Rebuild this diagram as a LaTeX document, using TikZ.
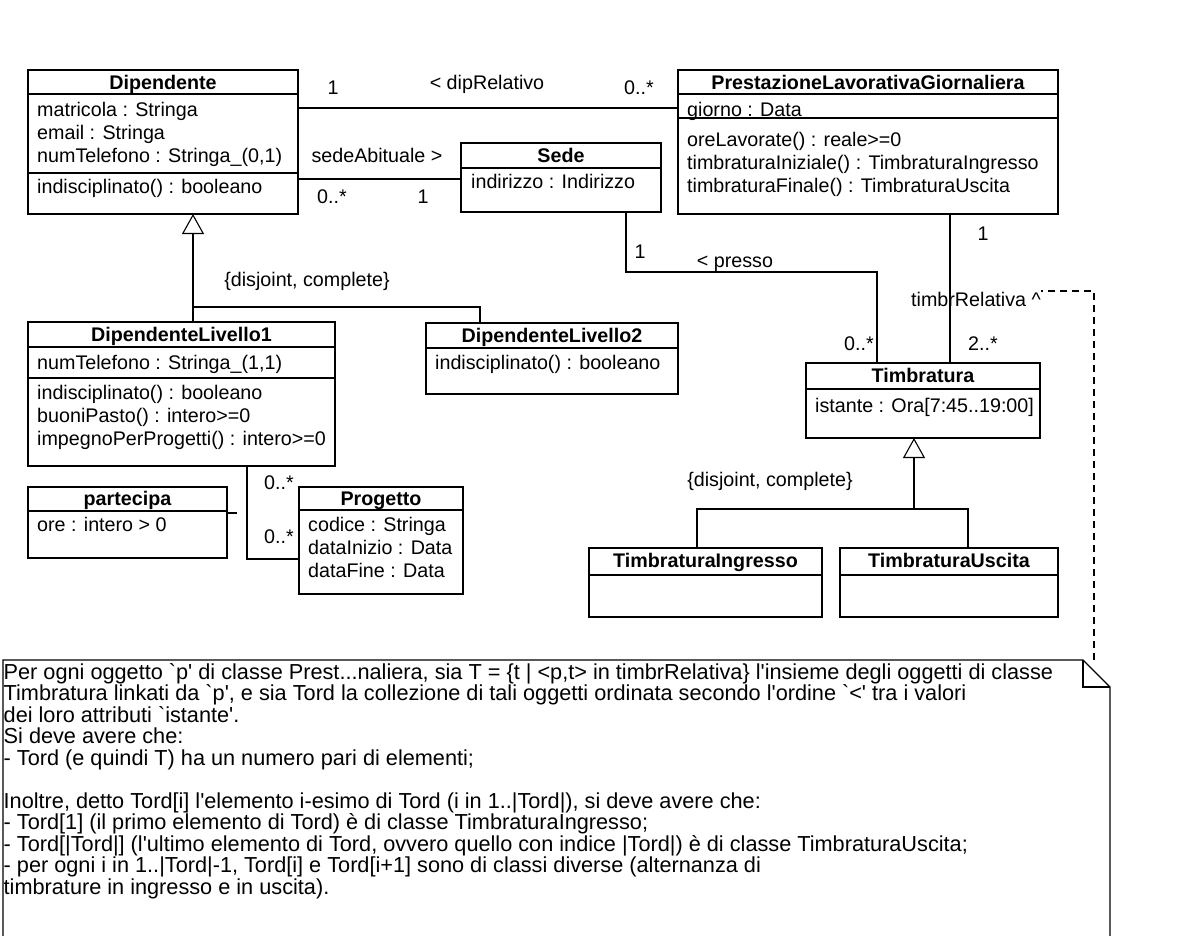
\documentclass[tikz,border=0pt]{standalone}
\usepackage{fontspec}
\setmainfont{Liberation Sans}[Ligatures=TeXOff]
\usetikzlibrary{arrows.meta,calc}
\begin{document}
\begin{tikzpicture}[x=1pt,y=-1pt,
  box/.style={draw, fill=white, line width=1.1pt, inner sep=0pt, outer sep=0pt, anchor=north west},
  ttl/.style={anchor=base, inner sep=0pt, font=\fontsize{19.7}{23}\selectfont\bfseries},
  txt/.style={anchor=base west, inner sep=0pt, font=\fontsize{19.7}{23}\selectfont},
  lbl/.style={anchor=base, inner sep=0pt, font=\fontsize{19.7}{23}\selectfont},
  ntxt/.style={anchor=base west, inner sep=0pt, font=\fontsize{21.7}{21.5}\selectfont},
  conn/.style={line width=1.1pt},
  gen/.style={line width=1.1pt, -{Triangle[open, length=20pt, width=22pt, line width=1.1pt]}},
  notelink/.style={line width=1.1pt, dash pattern=on 7pt off 5pt},
  asslink/.style={line width=1.1pt, dash pattern=on 10pt off 10pt},
]
\useasboundingbox (0,0) rectangle (1188,935);
\fill[white] (0,0) rectangle (1188,935);

% ---------- Dipendente
\node[box, minimum width=270pt, minimum height=144pt] (dip) at (28,70) {};
\draw[conn] ($(dip.north west)+(0,24)$) -- ($(dip.north east)+(0,24)$);
\draw[conn] ($(dip.north west)+(0,103)$) -- ($(dip.north east)+(0,103)$);
\node[ttl] (dipT) at (163,89) {Dipendente};
\node[txt] (dipA1) at (37,116) {matricola : Stringa};
\node[txt] (dipA2) at (37,139) {email : Stringa};
\node[txt] (dipA3) at (37,162) {numTelefono : Stringa\_(0,1)};
\node[txt] (dipO1) at (37,193) {indisciplinato() : booleano};

% ---------- PrestazioneLavorativaGiornaliera
\node[box, minimum width=380pt, minimum height=144pt] (plg) at (678,70) {};
\draw[conn] ($(plg.north west)+(0,24)$) -- ($(plg.north east)+(0,24)$);
\draw[conn] ($(plg.north west)+(0,48)$) -- ($(plg.north east)+(0,48)$);
\node[ttl] (plgT) at (868,89) {PrestazioneLavorativaGiornaliera};
\node[txt] (plgA1) at (687,116) {giorno : Data};
\node[txt] (plgO1) at (687,146) {oreLavorate() : reale>=0};
\node[txt] (plgO2) at (687,169) {timbraturaIniziale() : TimbraturaIngresso};
\node[txt] (plgO3) at (687,192) {timbraturaFinale() : TimbraturaUscita};

% ---------- Sede
\node[box, minimum width=200pt, minimum height=69pt] (sede) at (461,143) {};
\draw[conn] ($(sede.north west)+(0,25)$) -- ($(sede.north east)+(0,25)$);
\node[ttl] (sedeT) at (561,162) {Sede};
\node[txt] (sedeA1) at (471,188) {indirizzo : Indirizzo};

% ---------- DipendenteLivello1
\node[box, minimum width=307pt, minimum height=144pt] (dl1) at (28,322) {};
\draw[conn] ($(dl1.north west)+(0,25)$) -- ($(dl1.north east)+(0,25)$);
\draw[conn] ($(dl1.north west)+(0,56)$) -- ($(dl1.north east)+(0,56)$);
\node[ttl] (dl1T) at (181.5,341) {DipendenteLivello1};
\node[txt] (dl1A1) at (37,369) {numTelefono : Stringa\_(1,1)};
\node[txt] (dl1O1) at (37,399) {indisciplinato() : booleano};
\node[txt] (dl1O2) at (37,422) {buoniPasto() : intero>=0};
\node[txt] (dl1O3) at (37,445) {impegnoPerProgetti() : intero>=0};

% ---------- DipendenteLivello2
\node[box, minimum width=252pt, minimum height=71pt] (dl2) at (426,323) {};
\draw[conn] ($(dl2.north west)+(0,25)$) -- ($(dl2.north east)+(0,25)$);
\node[ttl] (dl2T) at (552,342) {DipendenteLivello2};
\node[txt] (dl2O1) at (435,369) {indisciplinato() : booleano};

% ---------- Timbratura
\node[box, minimum width=234pt, minimum height=75pt] (timb) at (806,363) {};
\draw[conn] ($(timb.north west)+(0,26)$) -- ($(timb.north east)+(0,26)$);
\node[ttl] (timbT) at (923,382) {Timbratura};
\node[txt] (timbA1) at (815,412) {istante : Ora[7:45..19:00]};

% ---------- TimbraturaIngresso / TimbraturaUscita
\node[box, minimum width=233pt, minimum height=69pt] (ti) at (589,548) {};
\draw[conn] ($(ti.north west)+(0,27)$) -- ($(ti.north east)+(0,27)$);
\node[ttl] (tiT) at (705.5,567) {TimbraturaIngresso};
\node[box, minimum width=218pt, minimum height=69pt] (tu) at (840,548) {};
\draw[conn] ($(tu.north west)+(0,27)$) -- ($(tu.north east)+(0,27)$);
\node[ttl] (tuT) at (949,567) {TimbraturaUscita};

% ---------- partecipa
\node[box, minimum width=199pt, minimum height=71pt] (part) at (28,487) {};
\draw[conn] ($(part.north west)+(0,24)$) -- ($(part.north east)+(0,24)$);
\node[ttl] (partT) at (127.5,505) {partecipa};
\node[txt] (partA1) at (37,531) {ore : intero > 0};

% ---------- Progetto
\node[box, minimum width=164pt, minimum height=107pt] (prog) at (299,487) {};
\draw[conn] ($(prog.north west)+(0,23)$) -- ($(prog.north east)+(0,23)$);
\node[ttl] (progT) at (381,505) {Progetto};
\node[txt] (progA1) at (308,531) {codice : Stringa};
\node[txt] (progA2) at (308,554) {dataInizio : Data};
\node[txt] (progA3) at (308,577) {dataFine : Data};

% ---------- helper coordinates
\coordinate (c1) at (0,108);
\coordinate (c2) at (0,179);
\coordinate (c3) at (626,272);
\coordinate (c4) at (877,272);
\coordinate (c5) at (950,0);
\coordinate (c6) at (247,559);
\coordinate (c6b) at (0,513);
\coordinate (c7) at (1094,291);
\coordinate (j1) at (193,307);
\coordinate (j2) at (480,307);
\coordinate (j3) at (914,509);
\coordinate (j4) at (697,509);
\coordinate (j5) at (968,509);

% ---------- associations
\draw[conn] (dip.east |- c1) -- (plg.west |- c1);
\node[lbl] (m1) at (333,94) {1};
\node[lbl] (l1) at (487,89) {< dipRelativo};
\node[lbl] (m2) at (639,94) {0..*};

\draw[conn] (dip.east |- c2) -- (sede.west |- c2);
\node[lbl] (l2) at (377,162) {sedeAbituale >};
\node[lbl] (m3) at (332,203) {0..*};
\node[lbl] (m4) at (423,203) {1};

\draw[conn] (sede.south -| c3) -- (c3) -- (c4) -- (timb.north -| c4);
\node[lbl] (m5) at (640,258) {1};
\node[lbl] (l3) at (735,267) {< presso};
\node[lbl] (m6) at (859,350) {0..*};

\draw[conn] (plg.south -| c5) -- (timb.north -| c5);
\node[lbl] (m7) at (983,240) {1};
\node[lbl] (l4) at (976,306) {timbrRelativa \textasciicircum};
\node[lbl] (m8) at (983,350) {2..*};

\draw[conn] (dl1.south -| c6) -- (c6) -- (prog.west |- c6);
\node[lbl] (m9) at (279,489) {0..*};
\node[lbl] (m10) at (279,543) {0..*};
\draw[asslink] (part.east |- c6b) -- (c6 |- c6b);

% ---------- generalizations
\draw[gen] (j1) -- (dip.south -| j1);
\draw[conn] (dl1.north -| j1) -- (j1) -- (j2) -- (dl2.north -| j2);
\node[lbl] (g1) at (307,286) {\{disjoint, complete\}};

\draw[gen] (j3) -- (timb.south -| j3);
\draw[conn] (ti.north -| j4) -- (j4) -- (j5) -- (tu.north -| j5);
\node[lbl] (g2) at (770,486) {\{disjoint, complete\}};

% ---------- note
\node[inner sep=0pt, outer sep=0pt, anchor=north west, minimum width=1107pt, minimum height=290pt] (note) at (3,660) {};
\filldraw[fill=white, line width=1.1pt] (note.south west) -- (note.north west) -- ($(note.north east)+(-27,0)$) -- ($(note.north east)+(0,27)$) -- (note.south east) -- cycle;
\draw[conn] ($(note.north east)+(-27,0)$) |- ($(note.north east)+(0,27)$);
\draw[notelink] (note.north -| c7) -- (c7) -- (l4.east |- c7);

\node[ntxt] (n0) at (3.5,679) {Per ogni oggetto `p' di classe Prest...naliera, sia T = \{t | <p,t> in timbrRelativa\} l'insieme degli oggetti di classe};
\node[ntxt] (n1) at (3.5,700.5) {Timbratura linkati da `p', e sia Tord la collezione di tali oggetti ordinata secondo l'ordine `<' tra i valori};
\node[ntxt] (n2) at (3.5,722) {dei loro attributi `istante'.};
\node[ntxt] (n3) at (3.5,743.5) {Si deve avere che:};
\node[ntxt] (n4) at (3.5,765) {- Tord (e quindi T) ha un numero pari di elementi;};
\node[ntxt] (n6) at (3.5,808) {Inoltre, detto Tord[i] l'elemento i-esimo di Tord (i in 1..|Tord|), si deve avere che:};
\node[ntxt] (n7) at (3.5,829.5) {- Tord[1] (il primo elemento di Tord) è di classe TimbraturaIngresso;};
\node[ntxt] (n8) at (3.5,851) {- Tord[|Tord|] (l'ultimo elemento di Tord, ovvero quello con indice |Tord|) è di classe TimbraturaUscita;};
\node[ntxt] (n9) at (3.5,872.5) {- per ogni i in 1..|Tord|-1, Tord[i] e Tord[i+1] sono di classi diverse (alternanza di};
\node[ntxt] (n10) at (3.5,894) {timbrature in ingresso e in uscita).};
\end{tikzpicture}
\end{document}
